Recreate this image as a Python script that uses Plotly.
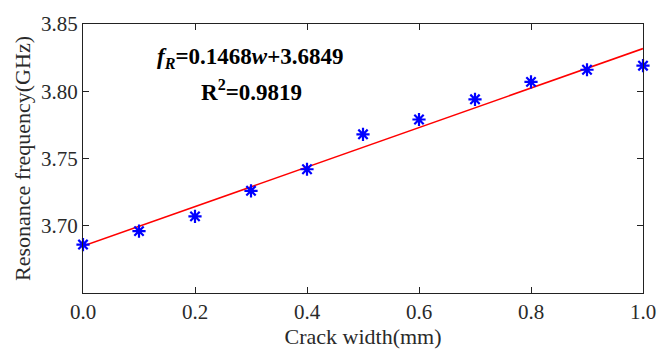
import plotly.graph_objects as go

crack_width = [0.0, 0.1, 0.2, 0.3, 0.4, 0.5, 0.6, 0.7, 0.8, 0.9, 1.0]
resonance = [3.686, 3.696, 3.707, 3.726, 3.742, 3.768, 3.779, 3.794, 3.807, 3.816, 3.819]
fit_slope = 0.1468
fit_intercept = 3.6849
fit_x = [0.0, 1.0]
fit_y = [fit_slope * x + fit_intercept for x in fit_x]

FONT = "Liberation Serif"
TXT = "#2a2a2a"

fig = go.Figure()
fig.add_trace(go.Scatter(x=fit_x, y=fit_y, mode="lines",
                         line=dict(color="red", width=1.6), showlegend=False))
fig.add_trace(go.Scatter(x=crack_width, y=resonance, mode="markers",
                         marker=dict(symbol="asterisk", size=11, color="blue",
                                     line=dict(color="blue", width=2.2)),
                         showlegend=False, cliponaxis=False))

axis_common = dict(showgrid=False, zeroline=False, showline=True, linecolor="#222",
                   linewidth=1.2, mirror="ticks", ticks="inside", ticklen=6,
                   tickcolor="#222", tickwidth=1.2,
                   tickfont=dict(family=FONT, size=21, color=TXT))

fig.update_xaxes(range=[0, 1], tickvals=[0, 0.2, 0.4, 0.6, 0.8, 1.0],
                 ticktext=["0.0", "0.2", "0.4", "0.6", "0.8", "1.0"],
                 title=dict(text="Crack width(mm)", font=dict(family=FONT, size=22, color=TXT),
                            standoff=2),
                 **axis_common)
fig.update_yaxes(range=[3.65, 3.85], tickvals=[3.70, 3.75, 3.80, 3.85],
                 ticktext=["3.70", "3.75", "3.80", "3.85"],
                 title=dict(text="Resonance frequency(GHz)", font=dict(family=FONT, size=22, color=TXT),
                            standoff=4),
                 **axis_common)

fig.add_annotation(x=0.298, y=3.825, xref="x", yref="y", showarrow=False,
                   text="<b><i>f</i><sub><i>R</i></sub>=0.1468<i>w</i>+3.6849</b>",
                   font=dict(family=FONT, size=23, color="black"))
fig.add_annotation(x=0.300, y=3.8005, xref="x", yref="y", showarrow=False,
                   text="<b>R<sup>2</sup>=0.9819</b>",
                   font=dict(family=FONT, size=23, color="black"))

fig.update_layout(width=671, height=354, margin=dict(l=83, r=28, t=15, b=60),
                  plot_bgcolor="white", paper_bgcolor="white")
fig.write_html("out.html")
